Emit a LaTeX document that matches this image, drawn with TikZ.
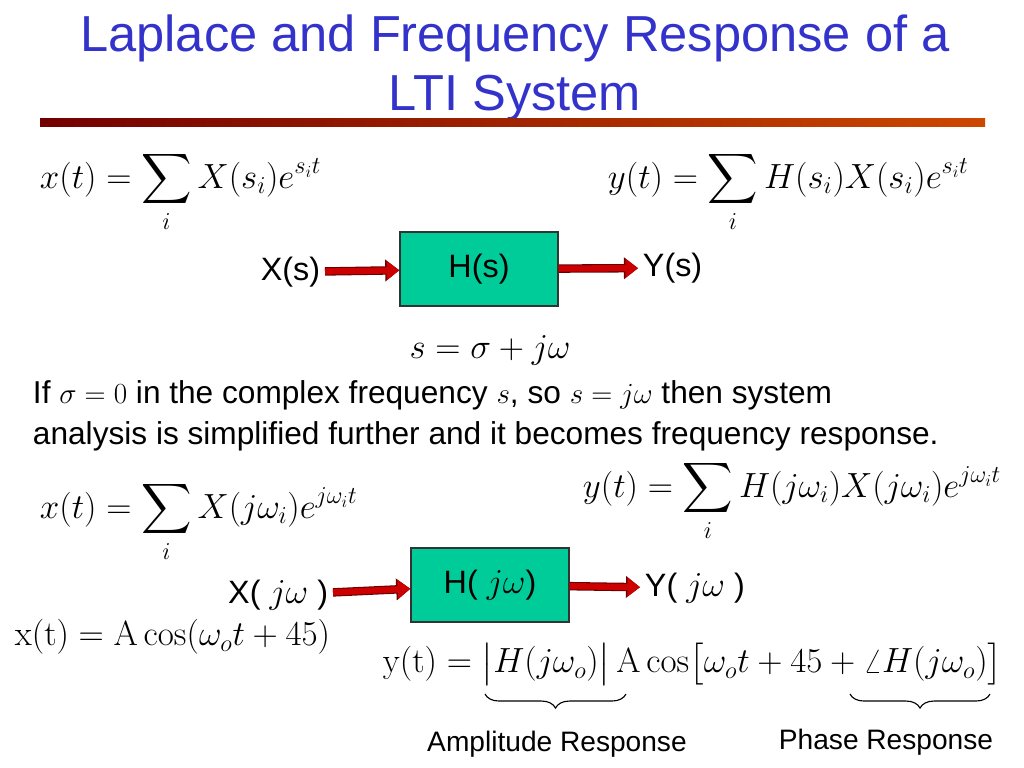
\documentclass[tikz,border=0pt]{standalone}
\usepackage{amsmath}
\usepackage[no-math]{fontspec}
\setmainfont{Liberation Sans}
\usetikzlibrary{arrows.meta,decorations.pathreplacing}
\definecolor{titleblue}{RGB}{51,51,204}
\definecolor{boxgreen}{RGB}{0,204,153}
\definecolor{arrowred}{RGB}{204,0,0}
\tikzset{
  sysbox/.style={draw=black!80,fill=boxgreen,line width=1pt,minimum width=158*0.025cm,minimum height=74*0.025cm,font=\fontsize{23}{27}\selectfont},
  sig/.style={font=\fontsize{23}{27}\selectfont},
  eq/.style={font=\fontsize{24}{28}\selectfont,anchor=west},
  flow/.style={draw=arrowred,line width=4.5pt,-{Triangle[length=9pt,width=13pt]},
    preaction={draw=red!40!black,line width=6pt,-{Triangle[length=10pt,width=15pt]}}},
  brc/.style={decorate,decoration={brace,mirror,amplitude=10pt},line width=0.8pt},
}
\begin{document}
\begin{tikzpicture}[x=0.025cm,y=-0.025cm]
  \useasboundingbox (0,0) rectangle (1024,768);

  % title
  \node[titleblue,font=\fontsize{36}{42}\selectfont,align=center] (title) at (515,68) {Laplace and Frequency Response of a\\LTI System};
  \shade[left color=red!45!black,right color=orange!70!red!80!black] (40,119) rectangle (985,127);

  % Laplace part
  \node[eq] (xsum) at (35,192) {$\displaystyle x(t)=\sum_{i}X(s_i)e^{s_i t}$};
  \node[eq] (ysum) at (603,192) {$\displaystyle y(t)=\sum_{i}H(s_i)X(s_i)e^{s_i t}$};
  \node[sysbox] (hs) at (479,269) {H(s)};
  \node[sig,anchor=east] (xs) at (325,272) {X(s)};
  \node[sig,anchor=west] (ys) at (638,268) {Y(s)};
  \draw[flow] (xs) -- (hs);
  \draw[flow] (hs) -- (ys);
  \node[font=\fontsize{24}{28}\selectfont] (sdef) at (490,350) {$s=\sigma+j\omega$};

  \node[anchor=west,align=left,font=\fontsize{22.5}{29}\selectfont] (note) at (28,416)
    {If $\sigma=0$ in the complex frequency $s$, so $s=j\omega$ then system\\
     analysis is simplified further and it becomes frequency response.};

  % frequency part
  \node[eq] (xjsum) at (35,522) {$\displaystyle x(t)=\sum_{i}X(j\omega_i)e^{j\omega_i t}$};
  \node[eq] (yjsum) at (578,501) {$\displaystyle y(t)=\sum_{i}H(j\omega_i)X(j\omega_i)e^{j\omega_i t}$};
  \node[sysbox] (hjw) at (490,585) {H( $j\omega$)};
  \node[sig,anchor=east] (xjw) at (333,595) {X( $j\omega$ )};
  \node[sig,anchor=west] (yjw) at (640,588) {Y( $j\omega$ )};
  \draw[flow] (xjw) -- (hjw);
  \draw[flow] (hjw) -- (yjw);

  \node[eq] (xcos) at (10,637) {$\mathrm{x(t)}=\mathrm{A}\cos(\omega_o t+45)$};
  \node[eq] (ycos) at (378,664) {$\mathrm{y(t)}=\bigl|H(j\omega_o)\bigr|\,\mathrm{A}\cos\bigl[\omega_o t+45+\angle H(j\omega_o)\bigr]$};

  \coordinate (a1) at (485,694);
  \coordinate (a2) at (626,694);
  \coordinate (p1) at (850,694);
  \coordinate (p2) at (990,694);
  \draw[brc] (a1) -- (a2);
  \draw[brc] (p1) -- (p2);
  \node[font=\fontsize{20}{24}\selectfont] (amp) at (557,744) {Amplitude Response};
  \node[font=\fontsize{20}{24}\selectfont] (pha) at (886,742) {Phase Response};
\end{tikzpicture}
\end{document}
